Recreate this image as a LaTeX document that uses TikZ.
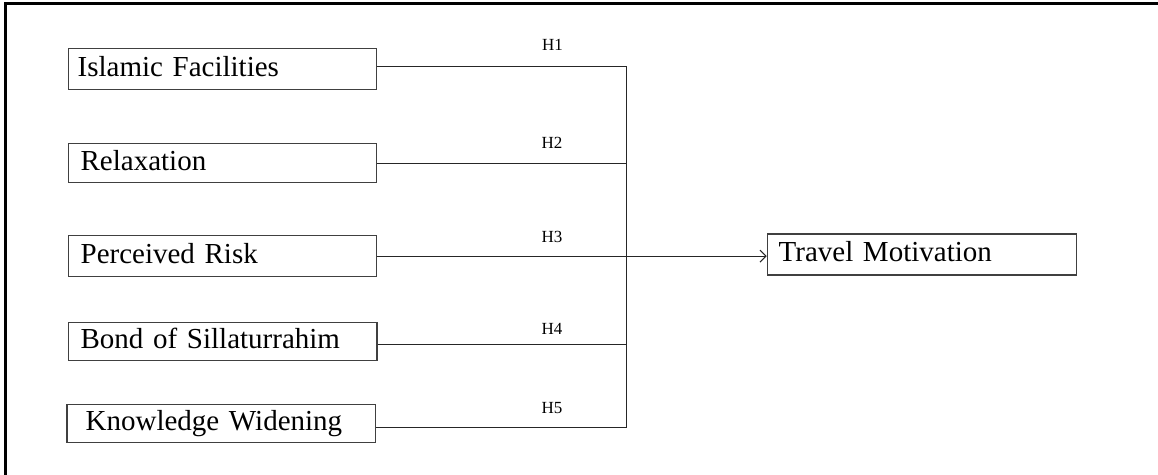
\documentclass[tikz,border=0pt]{standalone}
\usepackage{fontspec}
\setmainfont{Liberation Serif}
\usetikzlibrary{arrows.meta}
\begin{document}
\begin{tikzpicture}[x=1pt,y=-1pt,
  varbox/.style={draw=black!75, line width=1.3pt, anchor=north west, align=left,
    inner ysep=0pt, font=\fontsize{29}{32}\selectfont, text height=20pt, text depth=6pt},
  hlabel/.style={font=\fontsize{17}{19}\selectfont, inner sep=0pt},
  link/.style={draw=black!85, line width=1.1pt}]
\useasboundingbox (0,0) rectangle (1158,474);
\clip (0,0) rectangle (1158,474);
\draw[line width=2.7pt] (5.5,3.5) rectangle (1175,495);
% boxes: minimum height sets box height, text width + 2*inner xsep sets width
\node[varbox, inner xsep=9pt, text width=290pt, minimum height=41pt] (IF) at (68,48) {Islamic Facilities};
\node[varbox, inner xsep=12pt, text width=284pt, minimum height=39pt] (RX) at (68,143) {Relaxation};
\node[varbox, inner xsep=12pt, text width=284pt, minimum height=41pt] (PR) at (68,235) {Perceived Risk};
\node[varbox, inner xsep=12.3pt, text width=284pt, minimum height=38pt] (BS) at (67.7,322) {Bond of Sillaturrahim};
\node[varbox, inner xsep=18.7pt, text width=271pt, minimum height=38pt] (KW) at (66.3,404) {Knowledge Widening};
\node[varbox, inner xsep=11.3pt, text width=286.4pt, minimum height=41pt] (TM) at (766.7,233.3) {Travel Motivation};
\coordinate (J) at (626.7,255);
% connectors
\draw[link] ([yshift=2.8pt]IF.east) -| (J);
\draw[link] (RX.east) -| (J);
\draw[link] ([yshift=-2.5pt]BS.east) -| (J);
\draw[link] ([yshift=-3.7pt]KW.east) -| (J);
\draw[link, -{Straight Barb[length=6pt,width=12pt,line width=1pt]}] (PR.east) -- (PR.east -| TM.west);
% labels
\node[hlabel] (H1) at (552.5,44.5) {H1};
\node[hlabel] (H2) at (552,142.5) {H2};
\node[hlabel] (H3) at (552,236.5) {H3};
\node[hlabel] (H4) at (552,328.5) {H4};
\node[hlabel] (H5) at (552,408.5) {H5};
\end{tikzpicture}
\end{document}
